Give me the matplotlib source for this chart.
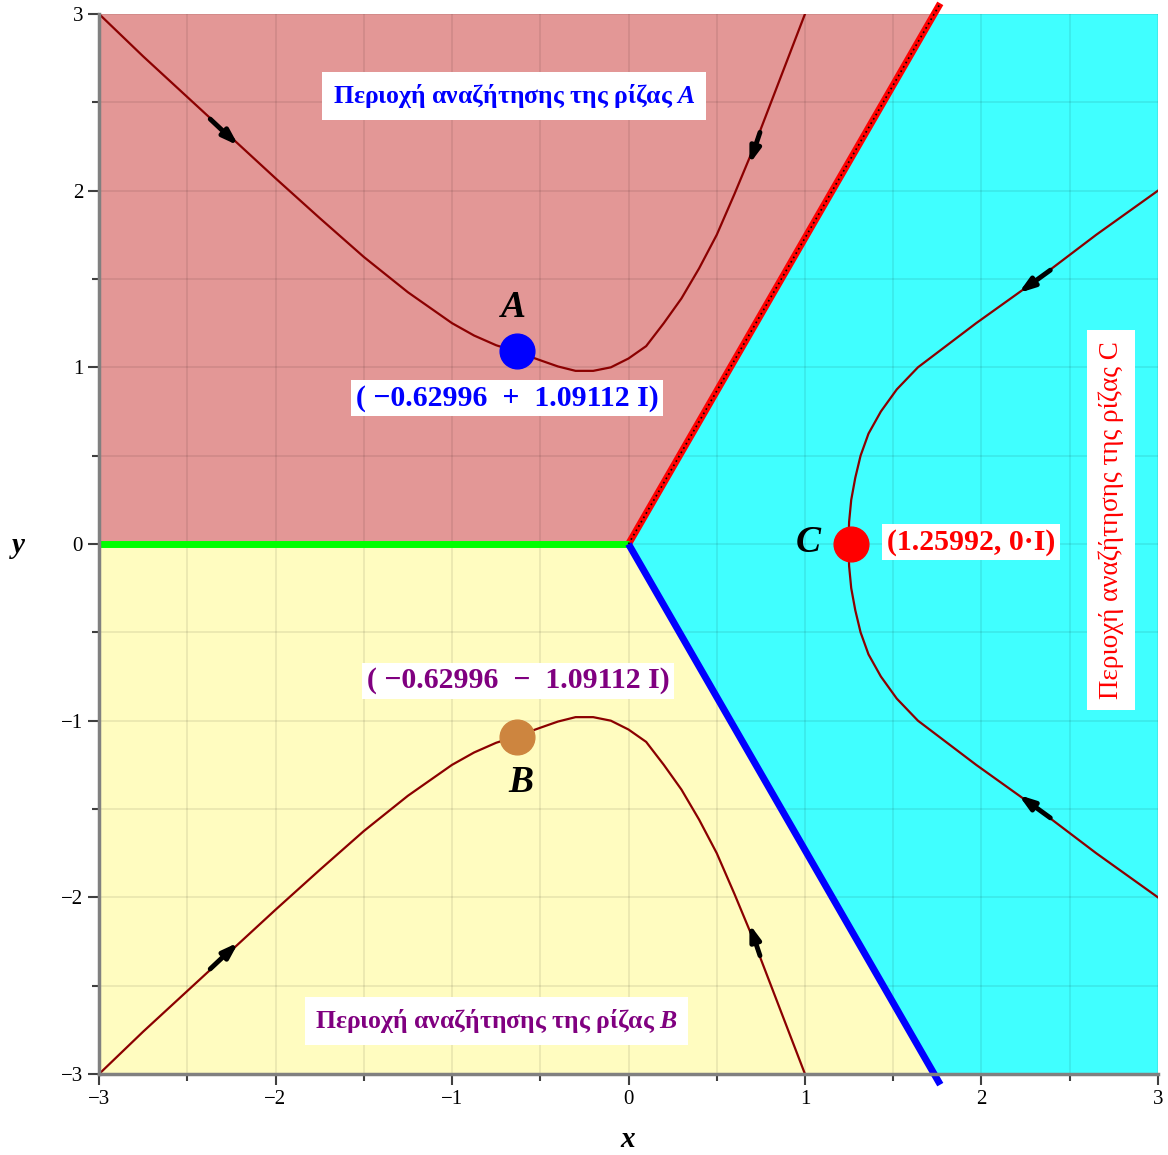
import numpy as np
import matplotlib
matplotlib.use("Agg")
import matplotlib.pyplot as plt

plt.rcParams['font.family'] = ['Liberation Serif', 'DejaVu Serif']
plt.rcParams['mathtext.fontset'] = 'custom'
plt.rcParams['mathtext.it'] = 'Liberation Serif:italic:bold'
plt.rcParams['mathtext.rm'] = 'Liberation Serif:bold'

# --- data ---
# upper curve (towards root A)
top_x = [-3.0, -2.75, -2.5, -2.25, -2.0, -1.75, -1.5, -1.25, -1.0, -0.875, -0.75, -0.625, -0.5, -0.4, -0.3,
         -0.2, -0.1, 0.0, 0.1, 0.2, 0.3, 0.4, 0.5, 0.6, 0.7, 0.8, 0.9, 1.0]
top_y = [3.0, 2.76, 2.53, 2.30, 2.07, 1.845, 1.625, 1.425, 1.25, 1.18, 1.125, 1.085, 1.04, 1.005, 0.98,
         0.98, 1.0, 1.05, 1.12, 1.25, 1.39, 1.56, 1.75, 1.98, 2.22, 2.48, 2.74, 3.0]
# lower curve (towards root B)
bot_x = [-3.0, -2.75, -2.5, -2.25, -2.0, -1.75, -1.5, -1.25, -1.0, -0.875, -0.75, -0.625, -0.5, -0.4, -0.3,
         -0.2, -0.1, 0.0, 0.1, 0.2, 0.3, 0.4, 0.5, 0.6, 0.7, 0.8, 0.9, 1.0]
bot_y = [-3.0, -2.76, -2.53, -2.30, -2.07, -1.845, -1.625, -1.425, -1.25, -1.18, -1.125, -1.085, -1.04, -1.005, -0.98,
         -0.98, -1.0, -1.05, -1.12, -1.25, -1.39, -1.56, -1.75, -1.98, -2.22, -2.48, -2.74, -3.0]
# right curve (towards root C)
right_y = [2.0, 1.75, 1.5, 1.25, 1.0, 0.875, 0.75, 0.625, 0.5, 0.375, 0.25, 0.125, 0.0,
           -0.125, -0.25, -0.375, -0.5, -0.625, -0.75, -0.875, -1.0, -1.25, -1.5, -1.75, -2.0]
right_x = [3.0, 2.65, 2.32, 1.97, 1.64, 1.52, 1.43, 1.36, 1.315, 1.285, 1.262, 1.25, 1.246,
           1.25, 1.262, 1.285, 1.315, 1.36, 1.43, 1.52, 1.64, 1.97, 2.32, 2.65, 3.0]

# arrows on the curves (tail -> head)
arrow_tail = [(-2.37, 2.405), (0.745, 2.33), (-2.37, -2.405), (0.745, -2.33), (2.39, 1.55), (2.39, -1.55)]
arrow_head = [(-2.21, 2.255), (0.685, 2.15), (-2.21, -2.255), (0.685, -2.15), (2.21, 1.42), (2.21, -1.42)]

# roots
root_names = ["A", "B", "C"]
root_re = [-0.62996, -0.62996, 1.25992]
root_im = [1.09112, -1.09112, 0.0]
root_colors = ["#0000FF", "#CD853F", "#FF0000"]
root_texts = ["( −0.62996  +  1.09112 I)", "( −0.62996  −  1.09112 I)", "(1.25992, 0·I)"]
text_colors = ["#0000FF", "#800080", "#FF0000"]

# boundary rays between the basins (degrees)
ray_angles = [60, 180, -60]
ray_colors = ["#FF0000", "#00FF00", "#0000FF"]

fig = plt.figure(figsize=(11.68, 11.55), dpi=100)
ax = fig.add_axes([0.0848, 0.0701, 0.9066, 0.9178])
ax.set_xlim(-3, 3)
ax.set_ylim(-3, 3)

# basins
t60 = np.tan(np.radians(ray_angles[0]))
ax.fill([-3, -3, 3 / t60, 0], [0, 3, 3, 0], color="#E39796", zorder=0)
ax.fill([-3, -3, 3 / t60, 0], [0, -3, -3, 0], color="#FFFCC0", zorder=0)
ax.fill([0, 3 / t60, 3, 3, 3 / t60], [0, 3, 3, -3, -3], color="#40FFFF", zorder=0)

# grid
ax.set_xticks(np.arange(-3, 3.01, 1))
ax.set_yticks(np.arange(-3, 3.01, 1))
ax.set_xticks(np.arange(-2.5, 3, 1), minor=True)
ax.set_yticks(np.arange(-2.5, 3, 1), minor=True)
ax.grid(True, which="both", color="#000000", alpha=0.09, linewidth=1.2, zorder=1)

# boundary rays
for ang, col in zip(ray_angles, ray_colors):
    r = 3.06 / abs(np.sin(np.radians(ang))) if ang != 180 else 3.0
    ex = r * np.cos(np.radians(ang))
    ey = r * np.sin(np.radians(ang))
    ax.plot([0, ex], [0, ey], color=col, linewidth=5, solid_capstyle="butt", zorder=3, clip_on=False)
ex = 3.06 / t60
ax.plot([0, ex], [0, 3.06], color="black", linewidth=1.2, linestyle=(0, (1, 2)), zorder=4, clip_on=False)

# curves
ax.plot(top_x, top_y, color="#8B0000", linewidth=1.6, zorder=5)
ax.plot(bot_x, bot_y, color="#8B0000", linewidth=1.6, zorder=5)
ax.plot(right_x, right_y, color="#8B0000", linewidth=1.6, zorder=5)

for tail, head in zip(arrow_tail, arrow_head):
    ax.annotate("", xy=head, xytext=tail,
                arrowprops=dict(arrowstyle="-|>,head_length=0.9,head_width=0.3",
                                color="black", linewidth=3.5, shrinkA=0, shrinkB=0),
                zorder=6)

# roots
for i in range(3):
    ax.plot(root_re[i], root_im[i], "o", color=root_colors[i], markersize=25, zorder=7)

ax.text(-0.655, 1.34, r"$A$", fontsize=27, ha="center", va="center", zorder=8)
ax.text(-0.61, -1.353, r"$B$", fontsize=27, ha="center", va="center", zorder=8)
ax.text(1.02, 0.006, r"$C$", fontsize=27, ha="center", va="center", zorder=8)

box = dict(boxstyle="square,pad=0.15", facecolor="white", edgecolor="none")
coord_pos = [(-0.688, 0.826), (-0.626, -0.775), (1.94, 0.011)]
for i in range(3):
    ax.text(coord_pos[i][0], coord_pos[i][1], root_texts[i], color=text_colors[i], fontsize=21.5,
            fontweight="bold", ha="center", va="center", bbox=box, zorder=8)

tbox = dict(boxstyle="square,pad=0.4", facecolor="white", edgecolor="none")
ax.text(-0.649, 2.536, r"Περιοχή αναζήτησης της ρίζας $A$", color="#0000FF", fontsize=18.5,
        fontweight="bold", ha="center", va="center", bbox=tbox, zorder=8)
ax.text(-0.75, -2.70, r"Περιοχή αναζήτησης της ρίζας $B$", color="#800080", fontsize=18.5,
        fontweight="bold", ha="center", va="center", bbox=tbox, zorder=8)
ax.text(2.734, 0.136, "Περιοχή αναζήτησης της ρίζας C", color="#FF0000", fontsize=19.5,
        ha="center", va="center", rotation=90, bbox=tbox, zorder=8)

# axes look
for s in ["top", "right"]:
    ax.spines[s].set_visible(False)
for s in ["left", "bottom"]:
    ax.spines[s].set_color("#808080")
    ax.spines[s].set_linewidth(2.5)
    ax.spines[s].set_zorder(9)
ax.tick_params(which="major", length=8, width=1.5, color="#404040", labelsize=15)
ax.tick_params(which="minor", length=5, width=1.5, color="#404040")
ax.set_xticklabels(["−3", "−2", "−1", "0", "1", "2", "3"])
ax.set_yticklabels(["−3", "−2", "−1", "0", "1", "2", "3"])

fig.text(628 / 1168, 1 - 1140 / 1155, r"$x$", fontsize=21, ha="center", va="center")
fig.text(18 / 1168, 1 - 548 / 1155, r"$y$", fontsize=21, ha="center", va="center")

plt.savefig("out.png", dpi=100)
